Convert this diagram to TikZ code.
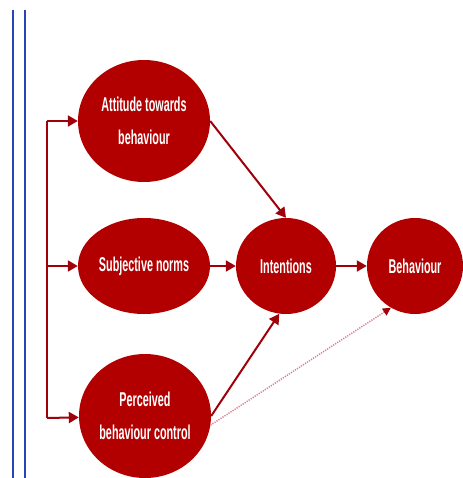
\documentclass[tikz,border=0pt]{standalone}
\usepackage{fontspec}
\usepackage{graphicx}
\setmainfont{Liberation Sans}
\usetikzlibrary{arrows.meta,shapes.geometric}
\definecolor{tpbfill}{HTML}{B20000}
\definecolor{tpbline}{HTML}{A0000A}
\definecolor{tpbdot}{HTML}{E07C8C}
\definecolor{rulecol}{HTML}{2A44B8}
% narrow lettering for the construct labels
\newcommand{\narrowtext}[1]{\scalebox{0.54}[1]{#1}}
\begin{document}
\begin{tikzpicture}[x=1pt,y=-1pt,
  construct/.style={ellipse,fill=tpbfill,draw=none,inner sep=0pt,text=white,
    align=center,font=\bfseries\fontsize{20}{33}\selectfont},
  link/.style={draw=tpbline,line width=2pt,-{Triangle[length=10pt,width=11pt]}},
  weaklink/.style={draw=tpbdot,line width=1.5pt,dash pattern=on 1.2pt off 1.2pt,
    -{Triangle[length=8pt,width=8pt,color=tpbline]}},
  bar/.style={draw=rulecol,line width=1.6pt}]
\useasboundingbox (0,0) rectangle (462,478);

% margin rules
\draw[bar] (13,10) -- (13,478);
\draw[bar] (25,10) -- (25,478);

% constructs
\node[construct,minimum width=132pt,minimum height=122pt] (att) at (144,121)
  {\narrowtext{Attitude towards}\\\narrowtext{behaviour}};
\node[construct,minimum width=132pt,minimum height=96pt] (sub) at (144,266)
  {\narrowtext{Subjective norms}};
\node[construct,minimum width=100pt,minimum height=96pt] (int) at (286,266)
  {\narrowtext{Intentions}};
\node[construct,minimum width=96pt,minimum height=96pt] (beh) at (415,266)
  {\narrowtext{Behaviour}};
\node[construct,minimum width=132pt,minimum height=124pt] (per) at (145,416)
  {\narrowtext{Perceived}\\\narrowtext{behaviour control}};

% shared feed on the left
\coordinate (fa) at (47,121);
\coordinate (fb) at (47,266);
\coordinate (fc) at (47,418);
\draw[draw=tpbline,line width=2pt] (fa) -- (fc);
\draw[link] (fa) -- (att);
\draw[link] (fb) -- (sub);
\draw[link] (fc) -- (per);

% paths to intentions and behaviour
\draw[link] (att.east) -- (int.north);
\draw[link] (sub) -- (int);
\draw[link] (per.east) -- (int.262);
\draw[link] (int) -- (beh);
\draw[weaklink] (per.-8) -- (beh.240);
\end{tikzpicture}
\end{document}
